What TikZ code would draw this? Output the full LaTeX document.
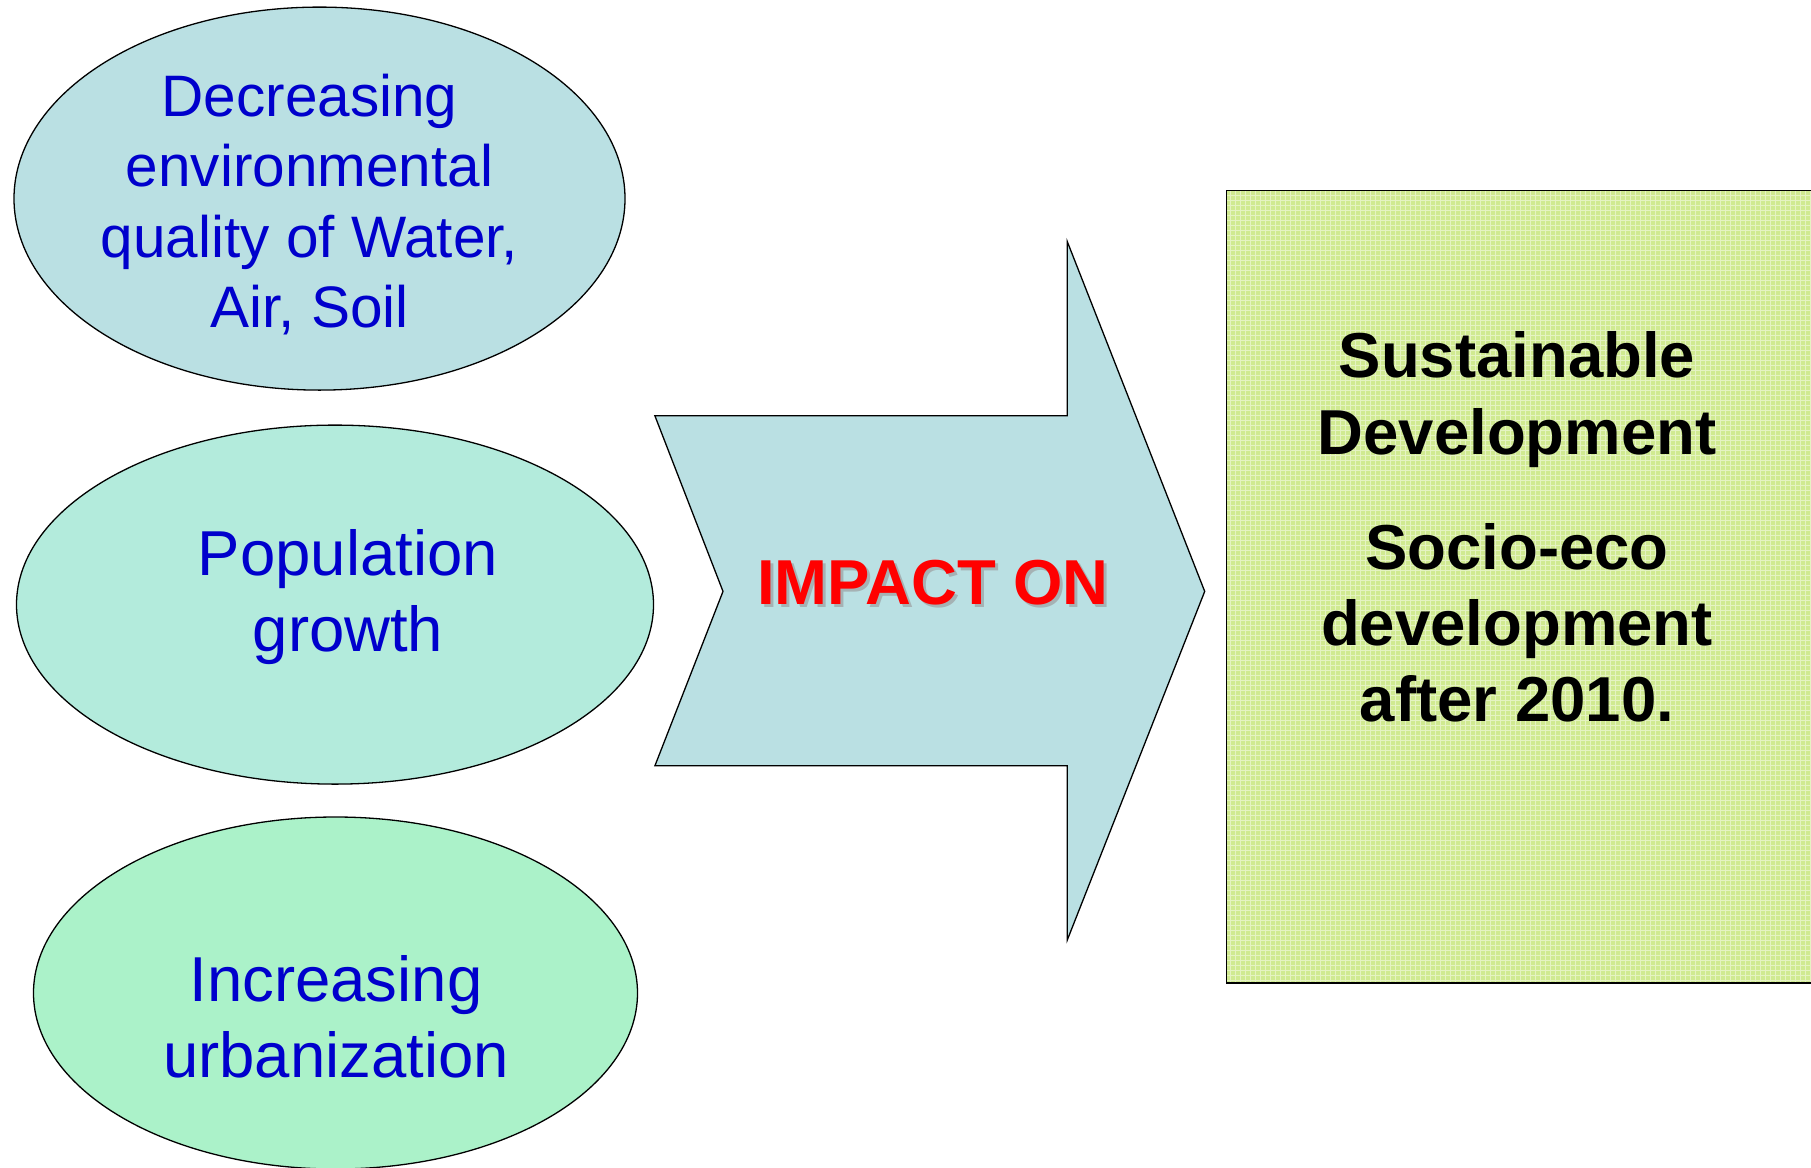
\documentclass[tikz,border=0pt]{standalone}
\usepackage{fontspec}
\setmainfont{Liberation Sans}
\usetikzlibrary{shapes.geometric}
\definecolor{eA}{RGB}{186,224,227}
\definecolor{eB}{RGB}{179,235,220}
\definecolor{eC}{RGB}{171,242,201}
\definecolor{txtblue}{RGB}{0,0,204}
\definecolor{boxgreen}{RGB}{208,234,145}
\definecolor{shadowgray}{RGB}{165,178,180}
\begin{document}
\begin{tikzpicture}[x=1pt,y=-1pt,
  bub/.style={ellipse, draw=black, line width=1.3pt, inner sep=0},
  btxt/.style={anchor=north, inner sep=0, align=center, text=txtblue},
  bigtxt/.style={anchor=north, inner sep=0, align=center, font=\bfseries\fontsize{63.5}{76.3}\selectfont}
]
\useasboundingbox (0,0) rectangle (1811,1167);
\begin{scope}
\clip (0,0) rectangle (1811,1167);
\node[bub, fill=eA, minimum width=611pt, minimum height=383pt] (e1) at (319.5,198.6) {};
\node[bub, fill=eB, minimum width=637pt, minimum height=359pt] (e2) at (335,604.6) {};
\node[bub, fill=eC, minimum width=604pt, minimum height=352pt] (e3) at (335.5,993) {};
% arrow
\draw[fill=eA, line width=1.3pt, line join=miter] (654.9,415.8) -- (1067.2,415.8) -- (1067.2,241.4) -- (1204.7,591.4) -- (1067.2,940.2) -- (1067.2,765.8) -- (654.9,765.8) -- (723,591.4) -- cycle;
% box
\fill[boxgreen] (1226.6,190.6) rectangle (1815,983);
\draw[white, opacity=0.45, line width=1pt] (1227,191) grid[step=5pt] (1812,982);
\draw[line width=1.3pt] (1815,190.6) -- (1226.6,190.6) -- (1226.6,983) -- (1815,983);
\end{scope}
\node[btxt, font=\fontsize{58.5}{70.4}\selectfont] (t1) at (309.5,74) {Decreasing\\environmental\\quality of Water,\\Air, Soil};
\node[btxt, font=\fontsize{63.5}{76.2}\selectfont] (t2) at (348,529) {Population\\growth};
\node[btxt, font=\fontsize{63.5}{76.2}\selectfont] (t3) at (336,955) {Increasing\\urbanization};
\node[bigtxt] (t4) at (1517,331.5) {Sustainable\\Development\\[39pt]Socio-eco\\development\\after 2010.};
\node[bigtxt, text=shadowgray] (imps) at (936,563) {IMPACT ON};
\node[bigtxt, text=red] (imp) at (933,560) {IMPACT ON};
\end{tikzpicture}
\end{document}
